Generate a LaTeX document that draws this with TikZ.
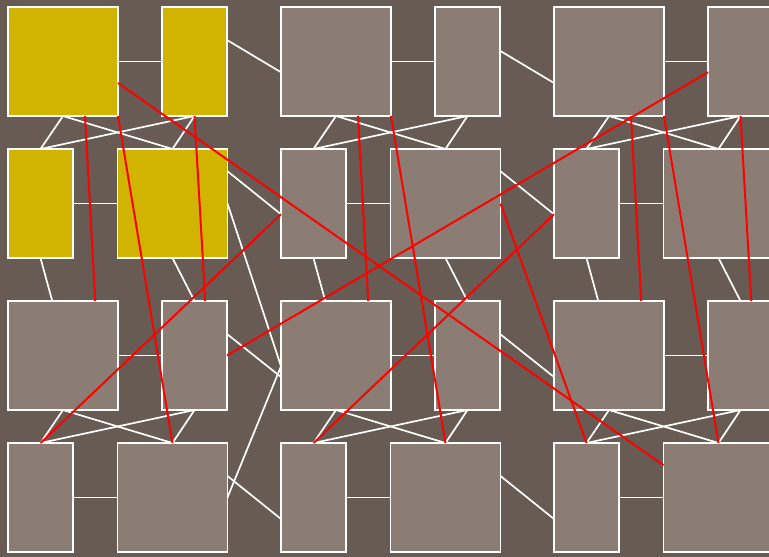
\documentclass[tikz,border=0pt]{standalone}
\usetikzlibrary{calc}
\definecolor{bgc}{RGB}{103,91,83}
\definecolor{boxgray}{RGB}{139,125,115}
\definecolor{boxyellow}{RGB}{208,180,0}
\begin{document}
\begin{tikzpicture}[x=1pt,y=-1pt,
  cell/.style={draw=white, line width=1.1pt, rectangle, inner sep=0pt, outer sep=0pt, minimum height=109pt},
  widecell/.style={cell, minimum width=110pt},
  narrowcell/.style={cell, minimum width=65pt},
  wline/.style={draw=white, line width=1.7pt},
  rline/.style={draw=red, line width=2pt}]
\fill[bgc] (0,0) rectangle (769,557);
\useasboundingbox (0,0) rectangle (769,557);
% cells
\foreach \g/\ox/\oy/\fc in {A/8/7/boxyellow,B/281/7/boxgray,C/554/7/boxgray,D/8/301/boxgray,E/281/301/boxgray,F/554/301/boxgray}{
  \node[widecell, fill=\fc]   (\g1) at (\ox+55,\oy+54.5) {};
  \node[narrowcell, fill=\fc] (\g2) at (\ox+186.5,\oy+54.5) {};
  \node[narrowcell, fill=\fc] (\g3) at (\ox+32.5,\oy+196.5) {};
  \node[widecell, fill=\fc]   (\g4) at (\ox+164.5,\oy+196.5) {};
}
% white links inside each group
\foreach \g in {A,B,C,D,E,F}{
  \draw[wline] (\g1.east) -- (\g2.west);
  \draw[wline] (\g3.east) -- (\g4.west);
  \draw[wline] (\g1.south) -- (\g3.north);
  \draw[wline] (\g1.south) -- (\g4.north);
  \draw[wline] (\g2.south) -- (\g3.north);
  \draw[wline] (\g2.south) -- (\g4.north);
}
% white links between groups (columns)
\draw[wline] ($(A2.east)+(0,-21.5)$) -- ($(B1.west)+(0,10.75)$);
\draw[wline] ($(B2.east)+(0,-10.75)$) -- ($(C1.west)+(0,21.5)$);
\draw[wline] ($(A4.east)+(0,-32.25)$) -- ($(B3.west)+(0,10.75)$);
\draw[wline] ($(B4.east)+(0,-32.25)$) -- ($(C3.west)+(0,10.75)$);
\draw[wline] ($(D2.east)+(0,-21.5)$) -- ($(E1.west)+(0,21.5)$);
\draw[wline] ($(E2.east)+(0,-21.5)$) -- ($(F1.west)+(0,21.5)$);
\draw[wline] ($(D4.east)+(0,-21.5)$) -- ($(E3.west)+(0,21.5)$);
\draw[wline] ($(E4.east)+(0,-21.5)$) -- ($(F3.west)+(0,21.5)$);
\draw[wline] (A4.east) -- ($(E1.west)+(0,10.75)$);
\draw[wline] (D4.east) -- ($(E1.west)+(0,10.75)$);
% white links between groups (rows)
\draw[wline] (A3.south) -- ($(D1.north)+(-10.75,0)$);
\draw[wline] (A4.south) -- (D2.north);
\draw[wline] (B3.south) -- ($(E1.north)+(-10.75,0)$);
\draw[wline] (B4.south) -- (E2.north);
\draw[wline] (C3.south) -- ($(F1.north)+(-10.75,0)$);
\draw[wline] (C4.south) -- (F2.north);
% red links
\draw[rline] ($(A1.east)+(0,21.5)$) -- ($(F4.west)+(0,-32.25)$);
\draw[rline] ($(A1.south)+(22,0)$) -- ($(D1.north)+(32.25,0)$);
\draw[rline] (A1.south east) -- (D4.north);
\draw[rline] (A2.south) -- ($(D2.north)+(10.75,0)$);
\draw[rline] ($(B3.west)+(0,10.75)$) -- (D3.north);
\draw[rline] ($(C2.west)+(0,10.75)$) -- (D2.east);
\draw[rline] (B4.east) -- (F3.north);
\draw[rline] ($(C3.west)+(0,10.75)$) -- (E3.north);
\draw[rline] ($(B1.south)+(22,0)$) -- ($(E1.north)+(32.25,0)$);
\draw[rline] (B1.south east) -- (E4.north);
\draw[rline] ($(C1.south)+(22,0)$) -- ($(F1.north)+(32.25,0)$);
\draw[rline] (C1.south east) -- (F4.north);
\draw[rline] (C2.south) -- ($(F2.north)+(10.75,0)$);
\end{tikzpicture}
\end{document}
